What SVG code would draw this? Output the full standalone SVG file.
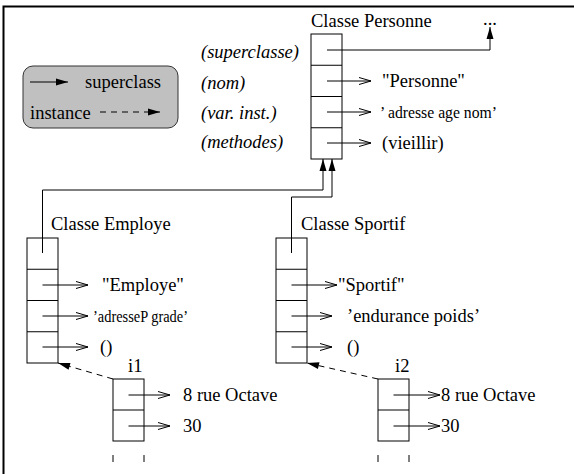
<svg xmlns="http://www.w3.org/2000/svg" width="574" height="474" viewBox="0 0 574 474" font-family="'Liberation Serif', 'Times New Roman', serif">
  <defs>
    <style>
      text { font-family: "Liberation Serif", "Times New Roman", serif; font-size: 18.5px; fill: #000; }
      .it { font-style: italic; }
      .tight { font-size: 16.5px; }
      .box { fill: #fff; stroke: #000; stroke-width: 1; }
      .sep { fill: none; stroke: #000; stroke-width: 1; }
      .ptr { fill: none; stroke: #000; stroke-width: 1; marker-end: url(#open); }
      .sup { fill: none; stroke: #000; stroke-width: 1; marker-end: url(#solid); }
      .inst { fill: none; stroke: #000; stroke-width: 1; stroke-dasharray: 6 5; marker-end: url(#solid); }
    </style>
    <marker id="solid" markerUnits="userSpaceOnUse" markerWidth="13" markerHeight="8" refX="12" refY="3.5" orient="auto" overflow="visible">
      <path d="M0,0 L12,3.5 L0,7 Z" fill="#000"/>
    </marker>
    <marker id="open" markerUnits="userSpaceOnUse" markerWidth="13" markerHeight="8" refX="12" refY="3.5" orient="auto" overflow="visible">
      <path d="M0,0 L12,3.5 L0,7" fill="none" stroke="#000" stroke-width="1"/>
    </marker>
  </defs>

  <!-- page frame -->
  <path d="M3.5,474 V6.5 H574" fill="none" stroke="#000" stroke-width="2"/>

  <!-- legend -->
  <g id="legend">
    <rect x="23" y="66" width="155" height="62" rx="10" fill="#c0c0c0" stroke="#333" stroke-width="1"/>
    <path d="M30,82 H68" class="sup"/>
    <text x="85" y="88">superclass</text>
    <text x="30" y="119">instance</text>
    <path d="M100,112 H160" class="inst" stroke-dasharray="6 4"/>
  </g>

  <!-- slot labels -->
  <g id="slot-labels">
    <text class="it" x="201" y="58">(superclasse)</text>
    <text class="it" x="201" y="89">(nom)</text>
    <text class="it" x="201" y="119">(var. inst.)</text>
    <text class="it" x="201" y="148">(methodes)</text>
  </g>

  <!-- class Personne -->
  <g id="personne">
    <text x="311" y="27">Classe Personne</text>
    <rect class="box" x="311" y="34" width="31" height="125"/>
    <path class="sep" d="M311,65.25 H342 M311,96.5 H342 M311,127.75 H342"/>
    <text x="382" y="87">"Personne"</text>
    <text class="tight" x="380" y="118" textLength="117" lengthAdjust="spacingAndGlyphs">’ adresse age nom’</text>
    <text x="382" y="149">(vieillir)</text>
  </g>

  <!-- class Employe -->
  <g id="employe">
    <text x="51" y="230">Classe Employe</text>
    <rect class="box" x="27" y="238" width="31" height="125"/>
    <path class="sep" d="M27,269.25 H58 M27,300.5 H58 M27,331.75 H58"/>
    <text x="102" y="291">"Employe"</text>
    <text class="tight" x="93" y="322" textLength="95" lengthAdjust="spacingAndGlyphs">’adresseP grade’</text>
    <text x="100" y="353">()</text>
  </g>

  <!-- class Sportif -->
  <g id="sportif">
    <text x="301" y="230">Classe Sportif</text>
    <rect class="box" x="276" y="238" width="31" height="125"/>
    <path class="sep" d="M276,269.25 H307 M276,300.5 H307 M276,331.75 H307"/>
    <text x="338" y="291">"Sportif"</text>
    <text x="347" y="322">’endurance poids’</text>
    <text x="347" y="353">()</text>
  </g>

  <!-- instance i1 -->
  <g id="i1">
    <text x="128" y="372">i1</text>
    <rect class="box" x="113" y="379" width="31" height="62"/>
    <path class="sep" d="M113,410 H144"/>
    <path class="sep" d="M113,441 V463 M144,441 V463" stroke-dasharray="0 14 7 20"/>
    <text x="183" y="401">8 rue Octave</text>
    <text x="183" y="432">30</text>
  </g>

  <!-- instance i2 -->
  <g id="i2">
    <text x="395" y="372">i2</text>
    <rect class="box" x="378" y="379" width="31" height="62"/>
    <path class="sep" d="M378,410 H409"/>
    <path class="sep" d="M378,441 V463 M409,441 V463" stroke-dasharray="0 14 7 20"/>
    <text x="441" y="401">8 rue Octave</text>
    <text x="441" y="432">30</text>
  </g>

  <!-- connectors -->
  <g id="connectors">
    <!-- superclass links -->
    <text x="490" y="25" text-anchor="middle">...</text>
    <path class="sup" d="M327,50 H490 V27"/>
    <path class="sup" d="M42.5,253 V190 H323 V159"/>
    <path class="sup" d="M291.5,253 V197 H332 V159"/>
    <!-- slot values -->
    <path class="ptr" d="M327,81 H371"/>
    <path class="ptr" d="M327,112 H371"/>
    <path class="ptr" d="M327,143 H371"/>
    <path class="ptr" d="M42.5,285 H88"/>
    <path class="ptr" d="M42.5,316 H88"/>
    <path class="ptr" d="M42.5,347 H88"/>
    <path class="ptr" d="M291.5,285 H337"/>
    <path class="ptr" d="M291.5,316 H332"/>
    <path class="ptr" d="M291.5,347 H332"/>
    <path class="ptr" d="M128.5,395 H170"/>
    <path class="ptr" d="M128.5,426 H170"/>
    <path class="ptr" d="M393.5,395 H440"/>
    <path class="ptr" d="M393.5,426 H440"/>
    <!-- instance links -->
    <path class="inst" d="M113,379 L58,363"/>
    <path class="inst" d="M378,379 L307,363"/>
  </g>
</svg>
